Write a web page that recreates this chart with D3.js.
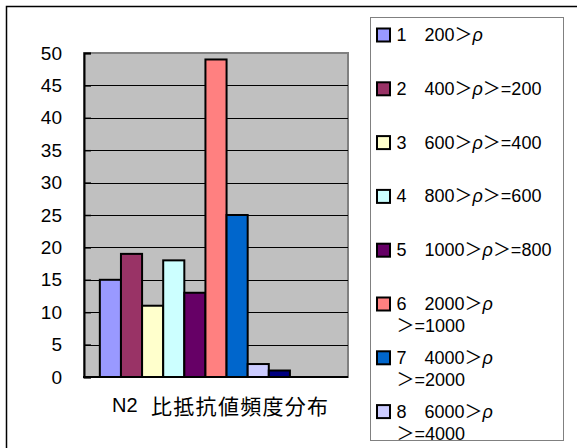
<!DOCTYPE html>
<html>
<head>
<meta charset="utf-8">
<script src="https://cdn.jsdelivr.net/npm/d3@7"></script>
<style>
  html, body { margin: 0; padding: 0; background: #fff; overflow: hidden; }
  svg { display: block; font-family: "Liberation Sans", Arial, "Noto Sans CJK JP", sans-serif; }
</style>
</head>
<body>
<svg id="chart" width="577" height="448"></svg>
<script>
// data
const categoryCode = "N2";
const categoryTitle = "比抵抗値頻度分布";
const seriesNames = [
  "1\u3000200＞ρ",
  "2\u3000400＞ρ＞=200",
  "3\u3000600＞ρ＞=400",
  "4\u3000800＞ρ＞=600",
  "5\u30001000＞ρ＞=800",
  "6\u30002000＞ρ\n＞=1000",
  "7\u30004000＞ρ\n＞=2000",
  "8\u30006000＞ρ\n＞=4000",
  "9\u30008000＞ρ\n＞=6000",
  "10\u300010000＞ρ\n＞=8000",
  "11\u3000ρ＞=10000"
];
const seriesValues = [15, 19, 11, 18, 13, 49, 25, 2, 1, 0, 0];
const seriesColors = ["#9999FF", "#993366", "#FFFFCC", "#CCFFFF", "#660066",
                      "#FF8080", "#0066CC", "#CCCCFF", "#000080", "#FF00FF", "#FFFF00"];
const yTicks = [0, 5, 10, 15, 20, 25, 30, 35, 40, 45, 50];

const svg = d3.select("#chart");

// outer chart border (runs off the page on right / bottom)
svg.append("rect")
  .attr("x", 6.5).attr("y", 6.5)
  .attr("width", 620).attr("height", 500)
  .attr("fill", "#fff")
  .attr("stroke", "#000")
  .attr("stroke-width", 1.5);

// plot area
const plot = { left: 84, right: 348, top: 53, bottom: 377 };

const x = d3.scaleBand()
  .domain(d3.range(seriesValues.length))
  .range([plot.left, plot.right])
  .paddingInner(0)
  .paddingOuter(0.75);

const y = d3.scaleLinear()
  .domain([0, 50])
  .range([plot.bottom, plot.top]);

svg.append("rect")
  .attr("x", plot.left).attr("y", plot.top)
  .attr("width", plot.right - plot.left)
  .attr("height", plot.bottom - plot.top)
  .attr("fill", "#C0C0C0")
  .attr("stroke", "#808080")
  .attr("stroke-width", 2);

// gridlines
svg.append("g")
  .selectAll("line")
  .data(yTicks.filter(d => d > 0 && d < 50))
  .join("line")
    .attr("x1", plot.left).attr("x2", plot.right)
    .attr("y1", d => Math.round(y(d)) + 0.5)
    .attr("y2", d => Math.round(y(d)) + 0.5)
    .attr("stroke", "#000")
    .attr("stroke-width", 1);

// y axis with small inside ticks
const yAxis = svg.append("g")
  .attr("transform", `translate(${plot.left},0)`)
  .call(d3.axisLeft(y).tickValues(yTicks).tickSize(-7).tickPadding(22));
yAxis.select(".domain").attr("stroke", "#000").attr("stroke-width", 2);
yAxis.selectAll(".tick line").attr("stroke", "#000").attr("stroke-width", 1.5);
yAxis.selectAll(".tick text")
  .attr("fill", "#000")
  .style("font-size", "19px")
  .style("font-family", "'Liberation Sans', Arial, sans-serif");

// bars
svg.append("g")
  .selectAll("rect")
  .data(seriesValues)
  .join("rect")
    .attr("x", (d, i) => x(i))
    .attr("y", d => y(d))
    .attr("width", x.bandwidth())
    .attr("height", d => y(0) - y(d))
    .attr("fill", (d, i) => seriesColors[i])
    .attr("stroke", "#000")
    .attr("stroke-width", d => d > 0 ? 2 : 0);

// x axis line
svg.append("line")
  .attr("x1", plot.left - 1).attr("x2", plot.right)
  .attr("y1", plot.bottom).attr("y2", plot.bottom)
  .attr("stroke", "#000")
  .attr("stroke-width", 2);

// category label
const cat = svg.append("text")
  .attr("x", 112)
  .attr("y", 405)
  .attr("dominant-baseline", "central");
cat.append("tspan")
  .style("font-family", "'Liberation Sans', Arial, sans-serif")
  .style("font-size", "20px")
  .text(categoryCode);
cat.append("tspan")
  .attr("x", 151)
  .style("font-family", "'Noto Sans CJK JP', sans-serif")
  .style("font-size", "21px")
  .style("letter-spacing", "1.3px")
  .text(categoryTitle);

// legend
const lg = { x: 370.5, y: 17.5, w: 193, h: 423 };
svg.append("clipPath").attr("id", "lgclip")
  .append("rect").attr("x", lg.x).attr("y", lg.y).attr("width", lg.w).attr("height", lg.h);

svg.append("rect")
  .attr("x", lg.x).attr("y", lg.y)
  .attr("width", lg.w).attr("height", lg.h)
  .attr("fill", "#fff")
  .attr("stroke", "#808080")
  .attr("stroke-width", 1);

const ly = d3.scaleLinear().domain([0, 1]).range([35, 35 + 53.8]);

// only the entries that start inside the legend box are visible
const shown = seriesNames.filter((d, i) => ly(i) < lg.y + lg.h);

const items = svg.append("g").attr("clip-path", "url(#lgclip)")
  .selectAll("g")
  .data(shown)
  .join("g")
    .attr("transform", (d, i) => `translate(${lg.x}, ${ly(i)})`);

items.append("rect")
  .attr("x", 6.5).attr("y", -6.5)
  .attr("width", 13).attr("height", 13)
  .attr("fill", (d, i) => seriesColors[i])
  .attr("stroke", "#000")
  .attr("stroke-width", 2);

items.each(function(label) {
  const g = d3.select(this);
  label.split("\n").forEach((line, k) => {
    const t = g.append("text")
      .attr("x", 26)
      .attr("y", k * 22)
      .attr("dominant-baseline", "central")
      .style("font-size", "18px");
    // ρ drawn slanted like in the picture
    line.split("ρ").forEach((part, j, arr) => {
      if (part) t.append("tspan").text(part);
      if (j < arr.length - 1) t.append("tspan").style("font-style", "italic").text("ρ");
    });
  });
});
</script>
</body>
</html>
